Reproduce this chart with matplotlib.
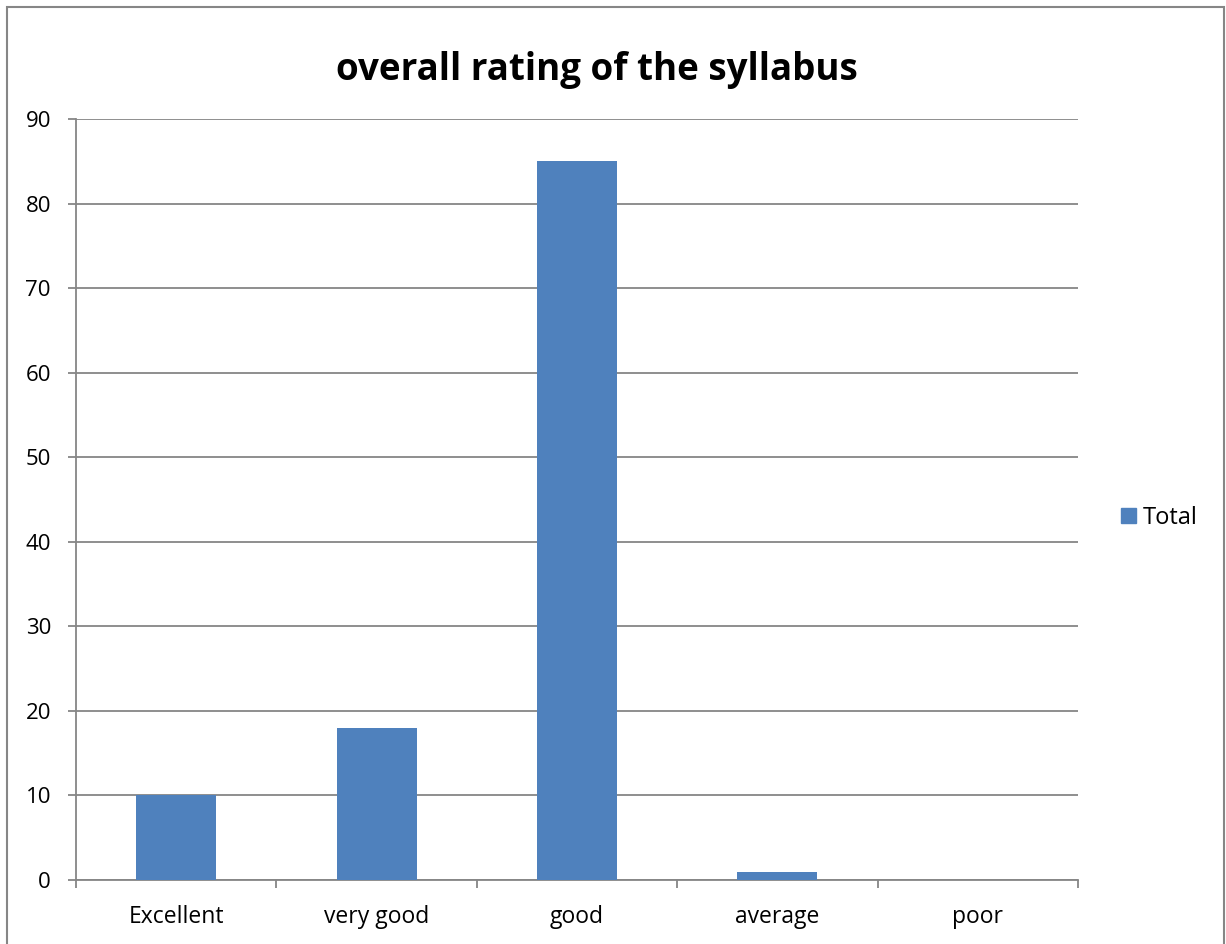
import matplotlib.pyplot as plt
from matplotlib.patches import Rectangle, Patch
import numpy as np

categories = ["Excellent", "very good", "good", "average", "poor"]
totals = [10, 18, 85, 1, 0]
y_ticks = [0, 10, 20, 30, 40, 50, 60, 70, 80, 90]

bar_color = "#4F81BD"
grid_color = "#868686"

plt.rcParams["font.family"] = ["Open Sans", "DejaVu Sans"]

W, H = 1226, 944
fig = plt.figure(figsize=(W / 100, H / 100), dpi=100)
ax = fig.add_axes([76 / W, 1 - 880 / H, (1078 - 76) / W, (880 - 119) / H])

x = np.arange(len(categories))
ax.bar(x, totals, width=0.4, color=bar_color, zorder=3, label="Total")

ax.set_xlim(-0.5, len(categories) - 0.5)
ax.set_ylim(0, 90)
ax.set_yticks(y_ticks)
ax.set_yticklabels([str(v) for v in y_ticks], fontsize=16)
ax.yaxis.grid(True, color=grid_color, linewidth=1.3, zorder=0)

# category labels centred, tick marks between categories
ax.set_xticks(np.arange(-0.5, len(categories), 1.0))
ax.set_xticklabels([])
ax.set_xticks(x, minor=True)
ax.set_xticklabels(categories, minor=True, fontsize=16.5)
ax.tick_params(axis="x", which="major", length=6, width=1.3, color=grid_color, direction="out")
ax.tick_params(axis="x", which="minor", length=0, pad=18)
ax.tick_params(axis="y", length=6, width=1.3, color=grid_color, direction="out", pad=12)

for side in ["top", "right"]:
    ax.spines[side].set_visible(False)
for side in ["left", "bottom"]:
    ax.spines[side].set_color(grid_color)
    ax.spines[side].set_linewidth(1.3)

fig.text(597 / W, 1 - 70 / H, "overall rating of the syllabus", fontsize=26.5,
         fontweight="bold", ha="center", va="center")

fig.legend(handles=[Patch(color=bar_color, label="Total")], loc="center left",
           bbox_to_anchor=(1100 / W, 1 - 518 / H), frameon=False, fontsize=17,
           handlelength=0.63, handleheight=0.63, handletextpad=0.3)

fig.patches.append(Rectangle((7 / W, -0.01), (1224 - 7) / W, 1.01 - 7 / H,
                             transform=fig.transFigure, fill=False,
                             edgecolor=grid_color, linewidth=1.5))

fig.savefig("out.png", dpi=100)
